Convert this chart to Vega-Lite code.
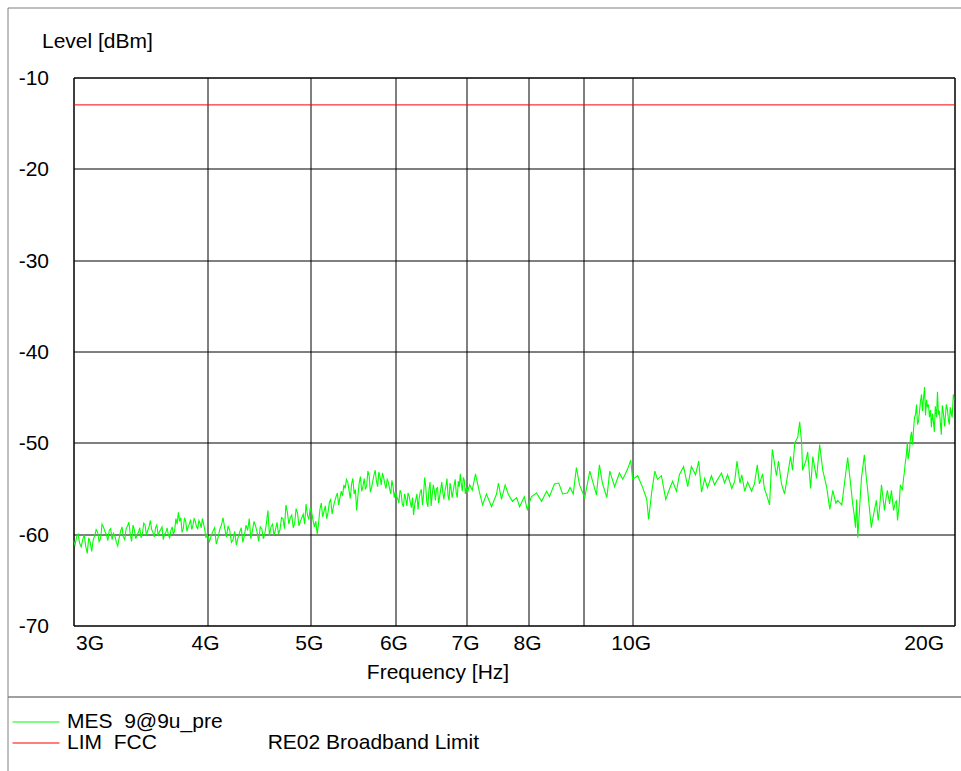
{
  "$schema": "https://vega.github.io/schema/vega-lite/v6.json",
  "background": "white",
  "padding": {"left": 6.5, "top": 6.5, "right": 0, "bottom": 0},
  "config": {"font": "Liberation Sans", "view": {"stroke": null}},
  "datasets": {
    "mes": [
      {"freq":3.00,"level":-60.7},{"freq":3.02,"level":-60.3},{"freq":3.04,"level":-61.0},{"freq":3.06,"level":-60.6},{"freq":3.08,"level":-61.3},
      {"freq":3.10,"level":-60.4},{"freq":3.12,"level":-61.9},{"freq":3.14,"level":-60.2},{"freq":3.16,"level":-59.8},{"freq":3.18,"level":-60.5},
      {"freq":3.20,"level":-59.2},{"freq":3.22,"level":-60.0},{"freq":3.24,"level":-59.6},{"freq":3.26,"level":-60.6},{"freq":3.28,"level":-60.2},
      {"freq":3.30,"level":-61.3},{"freq":3.32,"level":-59.7},{"freq":3.34,"level":-60.3},{"freq":3.36,"level":-59.4},{"freq":3.38,"level":-58.7},
      {"freq":3.40,"level":-60.8},{"freq":3.42,"level":-59.5},{"freq":3.44,"level":-60.1},{"freq":3.46,"level":-59.3},{"freq":3.48,"level":-59.9},
      {"freq":3.50,"level":-59.0},{"freq":3.52,"level":-59.6},{"freq":3.54,"level":-58.5},{"freq":3.56,"level":-59.8},{"freq":3.58,"level":-59.3},
      {"freq":3.60,"level":-60.2},{"freq":3.62,"level":-59.5},{"freq":3.64,"level":-60.6},{"freq":3.66,"level":-59.8},{"freq":3.68,"level":-60.1},
      {"freq":3.70,"level":-59.6},{"freq":3.72,"level":-60.0},{"freq":3.74,"level":-58.3},{"freq":3.76,"level":-57.6},{"freq":3.78,"level":-58.2},
      {"freq":3.80,"level":-59.4},{"freq":3.82,"level":-58.6},{"freq":3.84,"level":-59.2},{"freq":3.86,"level":-58.4},{"freq":3.88,"level":-59.0},
      {"freq":3.90,"level":-58.6},{"freq":3.92,"level":-59.4},{"freq":3.94,"level":-58.8},{"freq":3.96,"level":-58.3},{"freq":3.98,"level":-59.5},
      {"freq":4.00,"level":-60.0},{"freq":4.02,"level":-60.8},{"freq":4.05,"level":-59.7},{"freq":4.08,"level":-61.1},{"freq":4.11,"level":-59.5},
      {"freq":4.14,"level":-58.2},{"freq":4.17,"level":-60.3},{"freq":4.20,"level":-59.6},{"freq":4.23,"level":-60.6},{"freq":4.26,"level":-61.2},
      {"freq":4.29,"level":-59.8},{"freq":4.32,"level":-60.9},{"freq":4.35,"level":-59.0},{"freq":4.38,"level":-58.3},{"freq":4.41,"level":-59.6},
      {"freq":4.44,"level":-59.1},{"freq":4.47,"level":-60.8},{"freq":4.50,"level":-59.4},{"freq":4.53,"level":-59.9},{"freq":4.56,"level":-57.4},
      {"freq":4.59,"level":-59.2},{"freq":4.62,"level":-60.1},{"freq":4.65,"level":-58.7},{"freq":4.68,"level":-59.5},{"freq":4.71,"level":-58.3},
      {"freq":4.74,"level":-56.8},{"freq":4.77,"level":-58.9},{"freq":4.80,"level":-57.9},{"freq":4.83,"level":-58.8},{"freq":4.86,"level":-57.7},
      {"freq":4.89,"level":-58.6},{"freq":4.92,"level":-57.8},{"freq":4.95,"level":-56.7},{"freq":4.98,"level":-58.4},{"freq":5.01,"level":-57.6},
      {"freq":5.04,"level":-59.2},{"freq":5.07,"level":-60.0},{"freq":5.10,"level":-57.3},{"freq":5.13,"level":-58.1},{"freq":5.16,"level":-56.9},
      {"freq":5.19,"level":-57.6},{"freq":5.22,"level":-56.2},{"freq":5.25,"level":-57.0},{"freq":5.28,"level":-55.9},{"freq":5.31,"level":-56.8},
      {"freq":5.34,"level":-55.3},{"freq":5.37,"level":-54.6},{"freq":5.40,"level":-54.0},{"freq":5.43,"level":-55.2},{"freq":5.46,"level":-54.5},
      {"freq":5.49,"level":-55.6},{"freq":5.52,"level":-57.4},{"freq":5.55,"level":-54.4},{"freq":5.58,"level":-55.3},{"freq":5.61,"level":-53.9},
      {"freq":5.64,"level":-54.7},{"freq":5.67,"level":-53.6},{"freq":5.70,"level":-54.9},{"freq":5.73,"level":-53.5},{"freq":5.76,"level":-54.2},
      {"freq":5.79,"level":-53.2},{"freq":5.82,"level":-54.6},{"freq":5.85,"level":-53.8},{"freq":5.88,"level":-55.0},{"freq":5.91,"level":-54.3},
      {"freq":5.94,"level":-55.6},{"freq":5.97,"level":-54.8},{"freq":6.00,"level":-55.3},{"freq":6.03,"level":-56.1},{"freq":6.06,"level":-55.2},
      {"freq":6.09,"level":-56.7},{"freq":6.12,"level":-55.6},{"freq":6.15,"level":-56.9},{"freq":6.18,"level":-55.8},{"freq":6.21,"level":-57.1},
      {"freq":6.24,"level":-57.9},{"freq":6.27,"level":-56.2},{"freq":6.30,"level":-57.3},{"freq":6.33,"level":-55.4},{"freq":6.36,"level":-56.8},
      {"freq":6.39,"level":-53.8},{"freq":6.42,"level":-56.5},{"freq":6.45,"level":-55.1},{"freq":6.48,"level":-56.9},{"freq":6.51,"level":-54.6},
      {"freq":6.54,"level":-56.3},{"freq":6.57,"level":-54.9},{"freq":6.60,"level":-55.9},{"freq":6.63,"level":-54.3},{"freq":6.66,"level":-56.2},
      {"freq":6.69,"level":-54.7},{"freq":6.72,"level":-55.8},{"freq":6.75,"level":-54.4},{"freq":6.78,"level":-56.0},{"freq":6.81,"level":-54.6},
      {"freq":6.84,"level":-55.5},{"freq":6.87,"level":-54.2},{"freq":6.90,"level":-53.4},{"freq":6.93,"level":-55.3},{"freq":6.96,"level":-54.1},
      {"freq":6.99,"level":-54.9},{"freq":7.01,"level":-55.4},{"freq":7.04,"level":-54.6},{"freq":7.08,"level":-55.2},{"freq":7.13,"level":-53.4},
      {"freq":7.19,"level":-55.4},{"freq":7.24,"level":-56.8},{"freq":7.30,"level":-55.6},{"freq":7.38,"level":-57.0},{"freq":7.46,"level":-55.6},
      {"freq":7.49,"level":-54.4},{"freq":7.54,"level":-56.2},{"freq":7.60,"level":-54.6},{"freq":7.65,"level":-55.6},{"freq":7.72,"level":-56.4},
      {"freq":7.79,"level":-56.0},{"freq":7.84,"level":-57.0},{"freq":7.92,"level":-55.9},{"freq":7.97,"level":-57.3},{"freq":8.04,"level":-55.9},
      {"freq":8.13,"level":-55.5},{"freq":8.22,"level":-56.4},{"freq":8.31,"level":-55.3},{"freq":8.36,"level":-55.9},{"freq":8.45,"level":-54.5},
      {"freq":8.53,"level":-54.4},{"freq":8.60,"level":-55.6},{"freq":8.69,"level":-55.5},{"freq":8.74,"level":-54.9},{"freq":8.80,"level":-55.6},
      {"freq":8.86,"level":-52.7},{"freq":8.92,"level":-54.6},{"freq":9.02,"level":-56.0},{"freq":9.12,"level":-53.1},{"freq":9.25,"level":-55.7},
      {"freq":9.31,"level":-52.4},{"freq":9.37,"level":-54.4},{"freq":9.46,"level":-56.0},{"freq":9.52,"level":-53.1},{"freq":9.62,"level":-54.8},
      {"freq":9.72,"level":-53.3},{"freq":9.79,"level":-54.0},{"freq":9.89,"level":-52.9},{"freq":9.96,"level":-51.9},{"freq":10.00,"level":-54.0},
      {"freq":10.11,"level":-53.6},{"freq":10.22,"level":-54.9},{"freq":10.31,"level":-56.2},{"freq":10.35,"level":-58.4},{"freq":10.42,"level":-55.4},
      {"freq":10.49,"level":-53.1},{"freq":10.55,"level":-54.0},{"freq":10.64,"level":-53.6},{"freq":10.74,"level":-56.2},{"freq":10.83,"level":-55.0},
      {"freq":10.90,"level":-54.2},{"freq":10.99,"level":-55.3},{"freq":11.06,"level":-53.5},{"freq":11.16,"level":-52.6},{"freq":11.26,"level":-54.8},
      {"freq":11.35,"level":-52.6},{"freq":11.45,"level":-53.5},{"freq":11.53,"level":-52.0},{"freq":11.60,"level":-55.4},{"freq":11.68,"level":-53.9},
      {"freq":11.75,"level":-54.9},{"freq":11.85,"level":-53.6},{"freq":11.93,"level":-54.6},{"freq":12.01,"level":-54.0},{"freq":12.11,"level":-53.3},
      {"freq":12.19,"level":-54.4},{"freq":12.27,"level":-53.5},{"freq":12.38,"level":-55.0},{"freq":12.46,"level":-54.2},{"freq":12.52,"level":-52.0},
      {"freq":12.60,"level":-54.4},{"freq":12.65,"level":-53.5},{"freq":12.73,"level":-55.3},{"freq":12.81,"level":-54.3},{"freq":12.92,"level":-55.3},
      {"freq":13.00,"level":-54.5},{"freq":13.08,"level":-52.4},{"freq":13.14,"level":-54.5},{"freq":13.23,"level":-53.4},{"freq":13.28,"level":-55.0},
      {"freq":13.37,"level":-56.0},{"freq":13.43,"level":-56.8},{"freq":13.51,"level":-50.7},{"freq":13.63,"level":-53.6},{"freq":13.69,"level":-52.0},
      {"freq":13.78,"level":-54.5},{"freq":13.87,"level":-55.6},{"freq":13.96,"level":-53.6},{"freq":14.05,"level":-51.5},{"freq":14.11,"level":-53.0},
      {"freq":14.18,"level":-50.0},{"freq":14.27,"level":-49.4},{"freq":14.33,"level":-47.7},{"freq":14.39,"level":-50.0},{"freq":14.42,"level":-53.0},
      {"freq":14.52,"level":-52.0},{"freq":14.58,"level":-51.0},{"freq":14.67,"level":-55.0},{"freq":14.74,"level":-51.5},{"freq":14.86,"level":-53.9},
      {"freq":14.96,"level":-50.2},{"freq":15.06,"level":-53.0},{"freq":15.19,"level":-54.9},{"freq":15.29,"level":-57.3},{"freq":15.39,"level":-55.2},
      {"freq":15.49,"level":-56.6},{"freq":15.55,"level":-56.3},{"freq":15.69,"level":-56.8},{"freq":15.79,"level":-54.2},{"freq":15.89,"level":-51.6},
      {"freq":15.99,"level":-54.5},{"freq":16.06,"level":-56.6},{"freq":16.12,"level":-58.0},{"freq":16.16,"level":-59.3},{"freq":16.20,"level":-56.2},
      {"freq":16.24,"level":-60.4},{"freq":16.30,"level":-57.3},{"freq":16.37,"level":-53.8},{"freq":16.42,"level":-52.6},{"freq":16.47,"level":-51.3},
      {"freq":16.53,"level":-53.5},{"freq":16.58,"level":-54.9},{"freq":16.65,"level":-57.1},{"freq":16.72,"level":-59.3},{"freq":16.78,"level":-58.2},
      {"freq":16.83,"level":-57.4},{"freq":16.90,"level":-56.3},{"freq":16.97,"level":-58.5},{"freq":17.03,"level":-56.8},{"freq":17.09,"level":-54.6},
      {"freq":17.15,"level":-56.1},{"freq":17.20,"level":-57.4},{"freq":17.26,"level":-56.0},{"freq":17.31,"level":-55.2},{"freq":17.39,"level":-56.7},
      {"freq":17.46,"level":-55.2},{"freq":17.54,"level":-57.4},{"freq":17.60,"level":-56.6},{"freq":17.65,"level":-56.3},{"freq":17.69,"level":-58.5},
      {"freq":17.75,"level":-56.9},{"freq":17.80,"level":-54.6},{"freq":17.88,"level":-55.2},{"freq":17.92,"level":-53.9},{"freq":17.95,"level":-53.3},
      {"freq":17.98,"level":-52.4},{"freq":18.03,"level":-51.3},{"freq":18.05,"level":-50.6},{"freq":18.07,"level":-49.9},{"freq":18.10,"level":-51.8},
      {"freq":18.15,"level":-50.9},{"freq":18.19,"level":-49.5},{"freq":18.23,"level":-48.8},{"freq":18.27,"level":-50.2},{"freq":18.31,"level":-48.6},
      {"freq":18.35,"level":-47.2},{"freq":18.39,"level":-46.9},{"freq":18.43,"level":-45.8},{"freq":18.47,"level":-48.0},{"freq":18.51,"level":-47.6},
      {"freq":18.55,"level":-46.5},{"freq":18.59,"level":-45.4},{"freq":18.63,"level":-44.7},{"freq":18.67,"level":-46.5},{"freq":18.71,"level":-45.1},
      {"freq":18.75,"level":-43.9},{"freq":18.79,"level":-47.0},{"freq":18.83,"level":-45.3},{"freq":18.87,"level":-46.1},{"freq":18.91,"level":-45.8},
      {"freq":18.95,"level":-47.2},{"freq":18.99,"level":-46.4},{"freq":19.03,"level":-48.3},{"freq":19.07,"level":-46.8},{"freq":19.11,"level":-47.6},
      {"freq":19.15,"level":-48.8},{"freq":19.19,"level":-46.0},{"freq":19.24,"level":-47.2},{"freq":19.28,"level":-44.4},{"freq":19.32,"level":-46.9},
      {"freq":19.36,"level":-46.5},{"freq":19.40,"level":-47.8},{"freq":19.44,"level":-49.1},{"freq":19.48,"level":-45.9},{"freq":19.53,"level":-46.8},
      {"freq":19.58,"level":-48.2},{"freq":19.65,"level":-45.8},{"freq":19.70,"level":-46.4},{"freq":19.74,"level":-47.5},{"freq":19.78,"level":-48.0},
      {"freq":19.82,"level":-46.1},{"freq":19.86,"level":-46.8},{"freq":19.90,"level":-47.2},{"freq":19.95,"level":-44.7},{"freq":20.00,"level":-45.3},
      {"freq":3.01,"level":-61.2},{"freq":3.03,"level":-60.0},{"freq":3.05,"level":-61.4},{"freq":3.07,"level":-60.1},{"freq":3.09,"level":-62.1},
      {"freq":3.11,"level":-60.9},{"freq":3.13,"level":-60.6},{"freq":3.15,"level":-59.5},{"freq":3.17,"level":-60.8},{"freq":3.19,"level":-58.9},
      {"freq":3.21,"level":-59.7},{"freq":3.23,"level":-60.7},{"freq":3.25,"level":-59.4},{"freq":3.27,"level":-59.9},{"freq":3.29,"level":-60.9},
      {"freq":3.31,"level":-60.4},{"freq":3.33,"level":-59.2},{"freq":3.35,"level":-60.6},{"freq":3.37,"level":-59.1},{"freq":3.39,"level":-60.0},
      {"freq":3.41,"level":-59.0},{"freq":3.43,"level":-60.5},{"freq":3.45,"level":-59.8},{"freq":3.47,"level":-60.4},{"freq":3.49,"level":-58.8},
      {"freq":3.51,"level":-60.1},{"freq":3.53,"level":-59.2},{"freq":3.55,"level":-59.5},{"freq":3.57,"level":-60.3},{"freq":3.59,"level":-59.0},
      {"freq":3.61,"level":-59.7},{"freq":3.63,"level":-59.2},{"freq":3.65,"level":-60.0},{"freq":3.67,"level":-59.3},{"freq":3.69,"level":-60.4},
      {"freq":3.71,"level":-59.2},{"freq":3.73,"level":-59.6},{"freq":3.75,"level":-58.9},{"freq":3.77,"level":-58.6},{"freq":3.79,"level":-59.8},
      {"freq":3.81,"level":-58.2},{"freq":3.83,"level":-59.7},{"freq":3.85,"level":-58.9},{"freq":3.87,"level":-59.5},{"freq":3.89,"level":-58.3},
      {"freq":3.91,"level":-59.2},{"freq":3.93,"level":-58.5},{"freq":3.95,"level":-59.3},{"freq":3.97,"level":-58.9},{"freq":3.99,"level":-60.4},
      {"freq":4.035,"level":-60.2},{"freq":4.065,"level":-59.3},{"freq":4.095,"level":-60.4},{"freq":4.125,"level":-59.0},{"freq":4.155,"level":-59.4},
      {"freq":4.185,"level":-59.1},{"freq":4.215,"level":-60.9},{"freq":4.245,"level":-59.7},{"freq":4.275,"level":-60.4},{"freq":4.305,"level":-59.3},
      {"freq":4.335,"level":-60.1},{"freq":4.365,"level":-59.6},{"freq":4.395,"level":-60.5},{"freq":4.425,"level":-58.6},{"freq":4.455,"level":-59.8},
      {"freq":4.485,"level":-59.2},{"freq":4.515,"level":-60.5},{"freq":4.545,"level":-58.8},{"freq":4.575,"level":-60.2},{"freq":4.605,"level":-58.9},
      {"freq":4.635,"level":-59.5},{"freq":4.665,"level":-60.0},{"freq":4.695,"level":-58.2},{"freq":4.725,"level":-59.4},{"freq":4.755,"level":-57.6},
      {"freq":4.785,"level":-58.2},{"freq":4.815,"level":-59.3},{"freq":4.845,"level":-57.2},{"freq":4.875,"level":-59.1},{"freq":4.905,"level":-58.2},
      {"freq":4.935,"level":-58.9},{"freq":4.965,"level":-57.9},{"freq":4.995,"level":-57.1},{"freq":5.025,"level":-58.5},{"freq":5.055,"level":-58.6},
      {"freq":5.085,"level":-58.8},{"freq":5.115,"level":-56.6},{"freq":5.145,"level":-57.5},{"freq":5.175,"level":-58.3},{"freq":5.205,"level":-56.5},
      {"freq":5.235,"level":-57.8},{"freq":5.265,"level":-56.4},{"freq":5.295,"level":-55.5},{"freq":5.325,"level":-56.0},{"freq":5.355,"level":-55.8},
      {"freq":5.385,"level":-55.0},{"freq":5.415,"level":-54.3},{"freq":5.445,"level":-56.1},{"freq":5.475,"level":-53.9},{"freq":5.505,"level":-55.1},
      {"freq":5.535,"level":-55.8},{"freq":5.565,"level":-53.7},{"freq":5.595,"level":-54.8},{"freq":5.625,"level":-55.1},{"freq":5.655,"level":-53.1},
      {"freq":5.685,"level":-55.4},{"freq":5.715,"level":-54.2},{"freq":5.745,"level":-53.0},{"freq":5.775,"level":-54.8},{"freq":5.805,"level":-53.7},
      {"freq":5.835,"level":-53.3},{"freq":5.865,"level":-54.5},{"freq":5.895,"level":-54.0},{"freq":5.925,"level":-55.0},{"freq":5.955,"level":-54.1},
      {"freq":5.985,"level":-56.0},{"freq":6.015,"level":-55.9},{"freq":6.045,"level":-56.6},{"freq":6.075,"level":-55.5},{"freq":6.105,"level":-57.0},
      {"freq":6.135,"level":-56.1},{"freq":6.165,"level":-55.5},{"freq":6.195,"level":-56.5},{"freq":6.225,"level":-56.0},{"freq":6.255,"level":-56.8},
      {"freq":6.285,"level":-55.6},{"freq":6.315,"level":-56.1},{"freq":6.345,"level":-55.1},{"freq":6.375,"level":-55.7},{"freq":6.405,"level":-54.8},
      {"freq":6.435,"level":-57.0},{"freq":6.465,"level":-54.3},{"freq":6.495,"level":-55.7},{"freq":6.525,"level":-55.2},{"freq":6.555,"level":-55.0},
      {"freq":6.585,"level":-56.6},{"freq":6.615,"level":-55.1},{"freq":6.645,"level":-55.4},{"freq":6.675,"level":-55.3},{"freq":6.705,"level":-53.9},
      {"freq":6.735,"level":-56.3},{"freq":6.765,"level":-55.1},{"freq":6.795,"level":-55.3},{"freq":6.825,"level":-54.0},{"freq":6.855,"level":-56.0},
      {"freq":6.885,"level":-54.8},{"freq":6.915,"level":-54.5},{"freq":6.945,"level":-53.8},{"freq":6.975,"level":-55.6}
    ],
    "lim": [{"freq":3,"level":-13},{"freq":20,"level":-13}]
  },
  "bounds": "flush",
  "spacing": 0,
  "vconcat": [
    {
      "bounds": "flush",
      "spacing": 65,
      "hconcat": [
        {
          "width": 1, "height": 1,
          "data": {"values": [{}]},
          "mark": {"type": "point", "opacity": 0, "size": 0},
          "view": {"stroke": null}
        },
        {
          "bounds": "flush",
          "spacing": 69,
          "vconcat": [
            {
              "width": 1, "height": 1,
              "data": {"values": [{}]},
              "mark": {"type": "point", "opacity": 0, "size": 0},
              "view": {"stroke": null}
            },
            {
              "width": 881, "height": 548,
              "view": {"stroke": "#000000", "strokeWidth": 1},
              "layer": [
                {
                  "data": {"name": "mes"},
                  "mark": {"type": "line", "strokeWidth": 1.1, "clip": true},
                  "encoding": {
                    "x": {
                      "field": "freq", "type": "quantitative",
                      "scale": {"type": "log", "domain": [3, 20], "nice": false},
                      "axis": {
                        "values": [3, 4, 5, 6, 7, 8, 9, 10, 20],
                        "labelExpr": "datum.value == 9 ? '' : datum.value + 'G'",
                        "grid": true, "gridColor": "#000000", "gridOpacity": 1, "gridWidth": 1,
                        "ticks": false, "domain": false,
                        "labelFont": "Liberation Sans", "labelFontSize": 21, "labelColor": "#000000",
                        "labelPadding": 24, "labelBaseline": "alphabetic",
                        "labelFlush": false, "labelOverlap": false, "labelBound": false,
                        "labelAlign": {"condition": [{"test": "datum.value == 3", "value": "left"}, {"test": "datum.value == 20", "value": "right"}], "value": "center"},
                        "labelOffset": {"condition": [{"test": "datum.value == 3", "value": 2}, {"test": "datum.value == 20", "value": -11}], "value": -2},
                        "title": "Frequency [Hz]",
                        "titleFont": "Liberation Sans", "titleFontSize": 21, "titleFontWeight": "normal", "titleColor": "#000000",
                        "titleX": 364, "titleY": 53, "titleAlign": "center", "titleBaseline": "alphabetic"
                      }
                    },
                    "y": {
                      "field": "level", "type": "quantitative",
                      "scale": {"domain": [-70, -10], "nice": false, "zero": false},
                      "axis": {
                        "values": [-70, -60, -50, -40, -30, -20, -10],
                        "labelExpr": "'' + datum.value",
                        "grid": true, "gridColor": "#000000", "gridOpacity": 1, "gridWidth": 1,
                        "ticks": false, "domain": false,
                        "labelFont": "Liberation Sans", "labelFontSize": 21, "labelColor": "#000000",
                        "labelPadding": 25, "labelAlign": "right", "labelBaseline": "middle", "labelOffset": 1,
                        "labelFlush": false, "labelOverlap": false,
                        "title": "Level [dBm]",
                        "titleFont": "Liberation Sans", "titleFontSize": 21, "titleFontWeight": "normal", "titleColor": "#000000",
                        "titleAngle": 0, "titleAlign": "left", "titleBaseline": "alphabetic",
                        "titleX": -32, "titleY": -30.5
                      }
                    },
                    "color": {
                      "datum": "MES 9@9u_pre", "type": "nominal",
                      "scale": {"domain": ["MES 9@9u_pre", "LIM FCC"], "range": ["#00ff00", "#ff0000"]},
                      "legend": {
                        "orient": "none", "legendX": 17.5, "legendY": 703.5,
                        "title": null, "padding": 0, "rowPadding": 0,
                        "symbolType": "M-2.35,0H2.35", "symbolSize": 400, "symbolStrokeWidth": 1.2,
                        "labelFont": "Liberation Sans", "labelFontSize": 21, "labelColor": "#000000",
                        "labelOffset": 20, "labelLimit": 900,
                        "labelExpr": "datum.value == 'MES 9@9u_pre' ? 'MES\u00a0\u00a09@9u_pre' : 'LIM\u00a0\u00a0FCC\u00a0\u00a0\u00a0\u00a0\u00a0\u00a0\u00a0\u00a0\u00a0\u00a0\u00a0\u00a0\u00a0\u00a0\u00a0\u00a0\u00a0\u00a0\u00a0RE02 Broadband Limit'"
                      }
                    }
                  }
                },
                {
                  "data": {"name": "lim"},
                  "mark": {"type": "line", "strokeWidth": 1, "clip": true},
                  "encoding": {
                    "x": {"field": "freq", "type": "quantitative"},
                    "y": {"field": "level", "type": "quantitative"},
                    "color": {"datum": "LIM FCC", "type": "nominal"}
                  }
                }
              ]
            }
          ]
        }
      ]
    },
    {
      "bounds": "flush",
      "spacing": 0,
      "vconcat": [
        {
          "width": 956, "height": 689,
          "data": {"values": [{}]},
          "mark": {"type": "point", "opacity": 0, "size": 0},
          "view": {"stroke": "#808080", "strokeWidth": 1}
        },
        {
          "width": 956, "height": 77,
          "data": {"values": [{}]},
          "mark": {"type": "point", "opacity": 0, "size": 0},
          "view": {"stroke": "#808080", "strokeWidth": 1}
        }
      ]
    }
  ]
}
